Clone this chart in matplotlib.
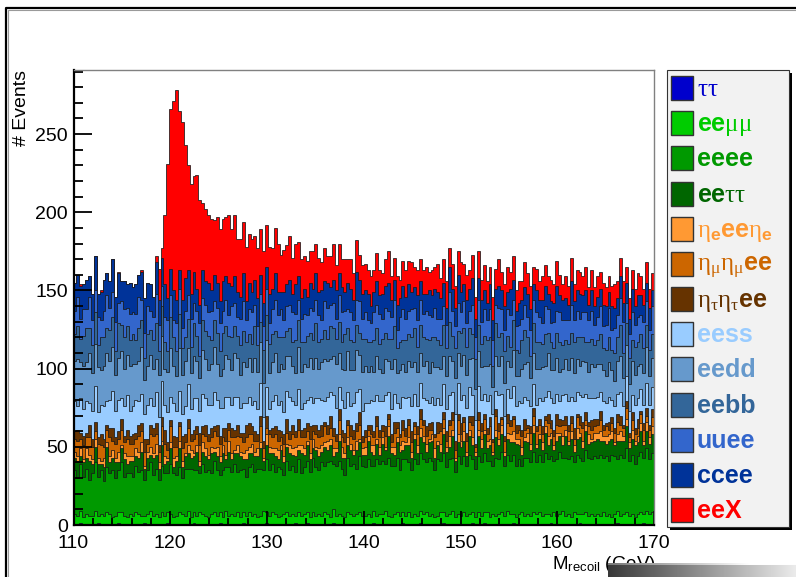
import numpy as np
import matplotlib
matplotlib.use("Agg")
import matplotlib.pyplot as plt
from matplotlib import font_manager
from matplotlib.patches import Rectangle
from matplotlib.lines import Line2D
from matplotlib.ticker import MultipleLocator

# ---------------------------------------------------------------- binning
x_min, x_max, n_bins = 110.0, 170.0, 200

# ---------------------------------------------------------------- events per bin (0.3 GeV bins), bottom of the stack first
tautau = [
    0,0,1,0,0,0,0,0,1,0,0,0,0,0,0,1,0,0,0,0,
    0,0,0,0,1,0,0,0,0,0,0,0,1,0,0,0,0,0,0,0,
    0,1,0,0,0,0,0,0,0,0,1,0,0,0,0,0,0,0,1,0,
    0,0,0,0,0,0,1,0,0,0,0,0,0,0,0,0,1,0,0,0,
    1,0,0,0,0,0,0,0,0,1,0,0,0,0,0,0,0,0,0,0,
    0,0,0,1,0,0,0,0,0,0,0,0,0,1,0,0,0,0,0,1,
    0,0,0,0,0,0,0,1,0,0,0,0,0,0,0,0,0,1,0,0,
    0,1,0,0,0,0,0,0,0,0,0,1,0,0,0,0,0,0,0,0,
    0,0,0,0,1,0,0,0,0,0,0,0,0,0,1,0,0,0,0,0,
    0,0,0,0,0,0,0,1,0,0,0,0,0,0,0,0,1,0,0,0,
]
eemumu = [
    7,6,8,5,7,6,6,9,5,7,6,8,7,5,6,7,8,6,5,7,
    6,8,7,6,5,7,9,6,7,5,8,6,7,7,5,6,8,7,6,9,
    5,7,6,8,7,6,5,7,8,6,7,5,9,6,7,6,8,5,7,6,
    8,6,7,5,6,9,7,6,8,7,5,6,7,8,6,7,5,8,6,7,
    7,5,8,6,7,6,8,7,5,9,6,7,6,5,8,7,6,7,8,6,
    6,7,5,8,6,7,7,9,6,5,7,8,6,7,6,8,5,7,6,8,
    7,8,6,7,5,6,8,7,6,7,9,5,7,6,8,6,7,7,5,8,
    6,7,8,5,7,6,7,8,6,9,7,6,5,7,8,6,7,6,8,7,
    8,6,7,7,5,8,6,7,9,6,7,5,8,7,6,7,8,6,7,6,
    7,6,8,6,7,5,7,8,6,7,8,6,7,5,7,8,6,9,7,8,
]
eeee = [
    28,24,30,26,29,23,27,31,25,28,22,29,26,30,24,27,32,25,28,26,
    25,30,27,29,23,28,31,26,29,24,30,27,25,32,28,26,29,23,30,27,
    31,27,29,25,32,28,30,26,33,29,24,30,28,31,27,33,26,30,28,25,
    29,33,27,31,30,26,34,29,31,27,32,30,25,33,29,31,28,34,27,30,
    33,29,35,31,28,34,30,33,36,29,32,34,30,27,35,31,33,29,36,32,
    31,35,33,29,36,32,34,30,37,33,31,35,29,34,36,32,30,35,33,37,
    35,32,37,34,30,36,33,38,31,35,34,29,37,33,36,32,38,34,31,36,
    34,38,33,36,31,37,35,39,32,36,34,38,33,35,30,37,36,34,39,33,
    37,34,39,35,38,33,36,40,34,37,35,39,32,38,36,34,40,37,35,38,
    36,39,35,38,34,40,37,33,39,36,41,35,38,34,37,39,36,40,35,38,
]
eetautau = [
    8,11,5,9,7,12,6,10,8,4,9,13,7,8,10,5,9,11,6,8,
    10,6,9,12,7,8,5,11,9,7,13,6,8,10,4,9,12,7,8,10,
    7,9,12,5,8,10,7,13,6,9,8,11,5,10,8,7,12,9,6,11,
    9,7,10,8,13,6,9,11,7,10,5,12,8,9,11,7,10,6,13,8,
    10,8,6,11,9,7,12,8,10,5,9,13,7,11,8,10,6,12,9,7,
    8,12,9,7,10,6,11,9,14,8,7,10,12,6,9,11,8,13,7,10,
    11,7,10,13,8,9,6,12,10,8,14,7,9,11,10,6,12,9,8,13,
    9,12,8,10,7,13,9,11,6,10,12,8,14,9,7,11,10,8,12,9,
    10,8,13,9,11,7,12,10,8,14,9,11,7,10,13,8,12,9,11,10,
    12,9,11,8,13,10,7,12,9,11,14,8,10,12,9,13,8,11,10,12,
]
etae_ee_etae = [
    4,3,5,2,6,4,3,5,4,2,6,3,4,5,3,7,2,4,5,3,
    3,5,4,6,2,4,5,3,7,4,3,5,2,4,6,3,5,4,2,5,
    5,2,4,3,6,5,3,4,2,6,4,5,3,7,4,2,5,3,4,6,
    4,6,3,5,4,2,7,4,3,5,6,3,4,2,5,4,6,3,5,4,
    3,4,6,2,5,4,3,6,4,5,2,4,7,3,5,4,3,6,2,4,
    5,3,4,6,3,5,4,2,6,4,5,3,4,6,2,5,4,3,5,6,
    4,5,2,4,6,3,5,4,3,7,4,2,5,4,6,3,4,5,3,4,
    6,3,5,4,2,5,4,6,3,4,5,7,3,4,5,2,6,4,5,3,
    3,5,4,6,4,3,5,2,6,4,3,5,4,7,3,5,4,6,2,5,
    4,6,3,5,4,5,2,4,6,3,5,4,6,3,4,5,3,6,4,5,
]
etamu_etamu_ee = [
    8,10,6,9,7,11,8,5,9,10,7,8,12,6,9,8,10,7,11,8,
    8,6,10,7,9,5,8,11,6,7,9,8,5,10,7,6,9,8,7,11,
    6,9,7,10,5,8,9,6,11,7,8,5,9,7,10,8,6,9,7,8,
    8,6,7,5,10,6,4,8,7,9,6,5,8,7,4,9,6,10,5,7,
    6,9,5,8,7,6,10,4,7,8,5,9,6,7,8,5,7,6,9,4,
    6,4,7,5,8,6,4,7,5,3,9,6,5,7,4,8,6,5,7,6,
    7,5,6,3,7,5,8,6,4,7,6,5,9,4,6,7,5,8,3,6,
    5,7,4,8,6,9,5,4,7,6,5,8,4,6,7,5,3,7,6,8,
    6,5,4,8,3,6,5,4,7,3,6,5,4,7,5,8,3,5,6,4,
    5,7,4,6,3,5,6,8,4,5,7,3,6,4,5,6,7,4,5,6,
]
etatau_etatau_ee = [
    5,7,4,6,3,8,5,6,4,7,5,3,6,8,4,5,7,4,6,5,
    6,4,7,5,8,3,6,5,7,4,6,9,5,4,7,6,3,8,5,6,
    4,6,5,8,5,7,4,6,3,7,5,6,8,4,6,5,7,3,6,8,
    7,5,6,4,7,5,8,3,6,5,7,4,6,9,5,6,4,7,5,6,
    5,8,4,6,5,7,3,6,8,5,4,7,5,6,3,7,6,5,8,4,
    5,3,6,4,7,5,4,6,3,5,7,4,2,6,5,4,7,3,5,6,
    3,6,4,5,2,7,5,4,6,3,5,6,4,7,3,5,4,6,2,5,
    5,3,4,6,2,4,5,1,3,6,4,2,5,3,4,7,2,4,5,3,
    4,5,3,6,5,4,7,5,3,6,4,5,7,2,6,4,5,3,6,5,
    4,6,3,2,5,4,3,5,6,2,4,3,5,4,6,2,4,5,3,5,
]
eess = [
    19,15,22,17,20,14,18,23,16,19,21,15,18,24,17,20,13,19,22,16,
    18,21,15,19,16,22,17,14,20,18,23,16,19,15,21,17,20,14,18,22,
    16,20,18,14,21,17,19,15,22,16,18,13,20,17,15,21,18,16,19,14,
    17,14,19,16,21,15,18,13,17,20,16,19,14,18,22,15,17,19,13,16,
    15,19,14,17,20,16,13,18,15,21,17,14,19,16,18,12,17,20,15,16,
    17,14,16,19,13,18,15,20,14,16,18,12,17,15,19,14,16,18,13,17,
    14,17,13,16,19,15,12,18,14,16,13,17,20,15,14,16,18,13,15,17,
    15,13,17,14,16,12,18,15,13,16,14,19,12,15,17,14,16,13,15,14,
    13,16,12,15,14,17,13,11,16,14,15,12,17,14,13,16,12,15,14,13,
    14,12,15,13,16,11,14,13,15,12,16,14,11,15,13,14,12,16,13,14,
]
eedd = [
    26,30,23,28,25,32,24,27,29,22,26,31,25,28,23,27,30,24,26,29,
    27,23,26,30,22,25,28,24,21,27,29,23,26,31,24,22,27,25,29,23,
    23,27,24,21,28,25,22,26,29,23,20,25,27,24,22,28,25,21,26,23,
    25,21,28,24,26,22,30,23,25,27,21,24,28,22,26,23,20,27,24,25,
    21,25,22,26,19,24,27,23,21,25,28,22,20,24,26,23,21,27,22,25,
    24,20,22,19,25,21,18,23,20,26,22,19,24,21,17,23,25,20,22,19,
    21,25,19,22,24,20,23,18,21,25,20,23,19,22,26,21,18,24,20,22,
    21,18,23,20,17,22,19,24,21,18,20,23,19,16,22,21,24,18,20,23,
    19,22,20,24,18,21,23,19,17,22,20,25,18,21,19,23,20,17,22,20,
    21,18,20,17,22,19,16,21,23,18,20,17,22,19,21,16,20,23,18,19,
]
eebb = [
    17,21,15,19,22,16,18,20,14,21,18,16,20,19,15,22,17,20,18,16,
    19,15,21,17,14,20,16,18,23,15,19,17,13,20,18,16,22,17,15,19,
    17,21,16,14,19,18,22,15,17,20,16,23,18,15,21,17,14,19,20,16,
    15,18,20,17,13,21,16,19,18,14,22,17,20,16,18,15,21,17,19,14,
    20,16,18,22,17,15,19,14,21,18,16,20,17,23,15,19,18,16,14,21,
    17,19,15,20,18,16,22,17,14,19,21,16,18,15,20,17,19,22,16,18,
    18,14,21,16,19,17,15,20,18,22,16,19,14,21,17,18,20,15,19,17,
    15,19,16,17,14,21,18,15,20,16,13,19,17,15,18,22,16,14,19,17,
    17,15,20,13,18,14,16,19,15,12,17,16,20,14,18,15,13,19,16,14,
    15,19,14,17,16,13,18,15,20,16,14,17,13,18,15,19,16,14,17,15,
]
uuee = [
    15,19,13,17,12,20,16,14,18,11,17,21,14,16,19,13,15,18,12,17,
    14,17,20,13,16,18,12,15,19,17,13,16,20,14,11,18,16,13,17,15,
    18,13,16,21,14,17,15,19,12,16,18,14,17,13,20,15,12,17,19,14,
    16,20,14,12,18,15,17,13,16,20,14,18,11,16,15,19,17,13,15,18,
    13,16,19,15,17,12,18,20,14,16,13,17,19,15,12,18,14,16,20,13,
    17,14,12,18,15,19,13,16,18,14,17,12,16,20,14,15,18,13,17,16,
    15,18,16,13,19,14,17,12,15,19,16,14,18,13,17,15,11,19,14,16,
    14,17,13,18,16,12,19,15,14,17,20,13,15,18,14,16,13,17,15,19,
    16,13,18,15,12,17,14,19,16,13,15,18,14,17,12,16,19,14,18,13,
    15,18,14,16,19,13,16,14,17,20,13,15,18,14,16,12,17,15,13,18,
]
ccee = [
    18,14,21,16,19,13,17,22,15,18,20,14,17,21,16,19,13,18,15,20,
    16,19,14,18,22,15,17,13,20,16,18,21,14,17,19,15,12,18,21,16,
    16,20,14,12,18,15,19,13,17,16,14,19,15,21,13,17,16,14,18,12,
    17,13,16,18,12,15,14,19,13,17,15,11,18,14,16,12,19,15,13,16,
    12,16,14,17,15,19,13,16,11,15,18,14,16,12,17,15,13,18,14,16,
    14,17,11,13,15,12,16,14,18,11,13,16,12,15,14,17,11,13,16,12,
    13,11,16,14,12,17,13,15,11,16,14,12,18,13,11,15,14,17,12,14,
    14,12,11,16,13,10,14,12,15,11,17,13,10,14,12,11,15,13,10,14,
    11,15,13,10,14,12,16,11,13,14,10,15,12,13,16,11,14,10,13,12,
    13,11,14,12,10,15,13,11,14,12,13,10,15,12,14,13,11,12,14,10,
]
eeX = [
    0,0,1,0,0,0,0,0,0,1,0,0,0,0,0,1,0,0,0,0,
    0,0,0,1,0,0,0,0,4,20,6,44,86,102,121,134,102,114,85,67,
    70,61,73,67,43,46,43,46,35,42,46,40,38,43,36,39,34,37,33,35,
    31,34,28,32,29,33,27,30,26,29,31,24,27,25,28,23,26,22,25,21,
    23,20,24,19,22,18,21,17,20,23,16,19,18,21,15,19,17,20,16,18,
    17,15,19,14,18,16,13,17,20,15,14,18,12,16,17,15,19,13,16,14,
    15,17,12,16,14,18,13,15,17,12,16,14,15,19,13,16,12,15,14,17,
    13,16,14,11,15,13,17,12,14,16,11,15,13,14,12,16,13,15,11,14,
    12,15,13,11,14,12,16,13,10,14,12,15,11,13,14,12,15,11,13,12,
    13,11,14,12,10,13,15,11,12,14,10,13,12,11,14,12,10,13,12,11,
]

labels = [
    r"$\tau\tau$", r"ee$\mu\mu$", "eeee", r"ee$\tau\tau$",
    r"$\eta_{\mathbf{e}}$ee$\eta_{\mathbf{e}}$", r"$\eta_{\mu}\eta_{\mu}$ee",
    r"$\eta_{\tau}\eta_{\tau}$ee", "eess", "eedd", "eebb", "uuee", "ccee", "eeX",
]
colors = [
    "#0000CC", "#00CC00", "#009900", "#006600", "#FF9933", "#CC6600",
    "#663300", "#99CCFF", "#6699CC", "#336699", "#3366CC", "#003399", "#FF0000",
]
series = [tautau, eemumu, eeee, eetautau, etae_ee_etae, etamu_etamu_ee,
          etatau_etatau_ee, eess, eedd, eebb, uuee, ccee, eeX]
for lab, s in zip(labels, series):
    assert len(s) == n_bins, (lab, len(s))

# ---------------------------------------------------------------- fonts
available = {f.name for f in font_manager.fontManager.ttflist}


def first_available(*names):
    for n in names:
        if n in available:
            return n
    return "DejaVu Sans"


sans_narrow = first_available("Liberation Sans Narrow", "Liberation Sans", "Arial")
sans = first_available("Liberation Sans", "Arial")
serif = first_available("Liberation Serif", "DejaVu Serif")

plt.rcParams["font.family"] = [sans_narrow, "DejaVu Sans"]
plt.rcParams["mathtext.fontset"] = "custom"
plt.rcParams["mathtext.rm"] = serif
plt.rcParams["mathtext.it"] = serif
plt.rcParams["mathtext.bf"] = f"{sans_narrow}:bold"
plt.rcParams["mathtext.sf"] = sans_narrow

# ---------------------------------------------------------------- figure in pixel units
W, H = 796, 577
fig = plt.figure(figsize=(W / 100, H / 100), dpi=100)
fig.patch.set_facecolor("white")


def fx(px):
    return px / W


def fy(py):
    return 1 - py / H


ax_l, ax_r, ax_t, ax_b = 73.5, 654, 70, 525
ax = fig.add_axes([fx(ax_l), fy(ax_b), (ax_r - ax_l) / W, (ax_b - ax_t) / H])

edges = np.linspace(x_min, x_max, n_bins + 1)
stack = np.cumsum(np.array(series, dtype=float), axis=0)

# THStack style: draw each cumulative histogram from the top down
for k in range(len(series) - 1, -1, -1):
    ax.stairs(stack[k], edges, baseline=0, fill=True,
              facecolor=colors[k], edgecolor="#1a1a1a", linewidth=0.55)

ax.set_xlim(x_min, x_max)
ax.set_ylim(0, 291)
ax.xaxis.set_major_locator(MultipleLocator(10))
ax.xaxis.set_minor_locator(MultipleLocator(2))
ax.yaxis.set_major_locator(MultipleLocator(50))
ax.yaxis.set_minor_locator(MultipleLocator(10))
ax.tick_params(axis="y", which="major", direction="in", length=13, width=1.3,
               labelsize=14, pad=4)
ax.tick_params(axis="y", which="minor", direction="in", length=6.5, width=1.3)
ax.tick_params(axis="x", which="major", direction="in", length=10, width=1.3,
               labelsize=14, pad=7)
ax.tick_params(axis="x", which="minor", direction="in", length=5, width=1.3)
for side in ("left", "bottom"):
    ax.spines[side].set_linewidth(1.6)
    ax.spines[side].set_color("black")
for side in ("top", "right"):
    ax.spines[side].set_linewidth(1.0)
    ax.spines[side].set_color("#808080")
ax.set_facecolor("white")

# axis titles
fig.text(fx(22), fy(70), "# Events", rotation=90, ha="center", va="top",
         fontsize=14, family=[sans, "DejaVu Sans"])
fig.text(fx(656), fy(569), r"M$_{\mathsf{recoil}}$ (GeV)", ha="right",
         va="baseline", fontsize=13.5)

# ---------------------------------------------------------------- legend box
leg_l, leg_r, leg_t, leg_b = 667, 789, 70, 527
fig.add_artist(Rectangle((fx(leg_l + 3), fy(leg_b + 3)), (leg_r - leg_l) / W,
                         (leg_b - leg_t) / H, transform=fig.transFigure,
                         facecolor="black", edgecolor="none", zorder=5))
fig.add_artist(Rectangle((fx(leg_l), fy(leg_b)), (leg_r - leg_l) / W,
                         (leg_b - leg_t) / H, transform=fig.transFigure,
                         facecolor="#f2f2f2", edgecolor="#333333",
                         linewidth=0.8, zorder=6))
row0, row_step = 88, 35.17
for i, (lab, col) in enumerate(zip(labels, colors)):
    yc = row0 + row_step * i
    fig.add_artist(Rectangle((fx(671), fy(yc + 12)), 22 / W, 24 / H,
                             transform=fig.transFigure, facecolor=col,
                             edgecolor="#333333", linewidth=1.0, zorder=7))
    fig.text(fx(697), fy(yc + 8), lab, color=col, fontsize=18,
             fontweight="bold", ha="left", va="baseline", zorder=8)

# ---------------------------------------------------------------- canvas frame
fig.add_artist(Line2D([fx(6), fx(6), fx(796)], [fy(577), fy(8), fy(8)],
                      transform=fig.transFigure, color="black", linewidth=1.6,
                      zorder=9))
fig.add_artist(Line2D([fx(8), fx(8), fx(796)], [fy(577), fy(10), fy(10)],
                      transform=fig.transFigure, color="#9a9a9a", linewidth=0.8,
                      zorder=9))

# shaded status strip in the lower right corner
bar = fig.add_axes([fx(608), fy(577), (796 - 608) / W, (577 - 563) / H], zorder=20)
shade = np.linspace(0.22, 0.92, 256)[None, :] * np.ones((14, 1))
shade[:2, :] = np.minimum(shade[:2, :] + 0.25, 1.0)
bar.imshow(shade, cmap="gray", vmin=0, vmax=1, aspect="auto",
           interpolation="bilinear")
bar.set_axis_off()

fig.savefig("out.png", dpi=100)
